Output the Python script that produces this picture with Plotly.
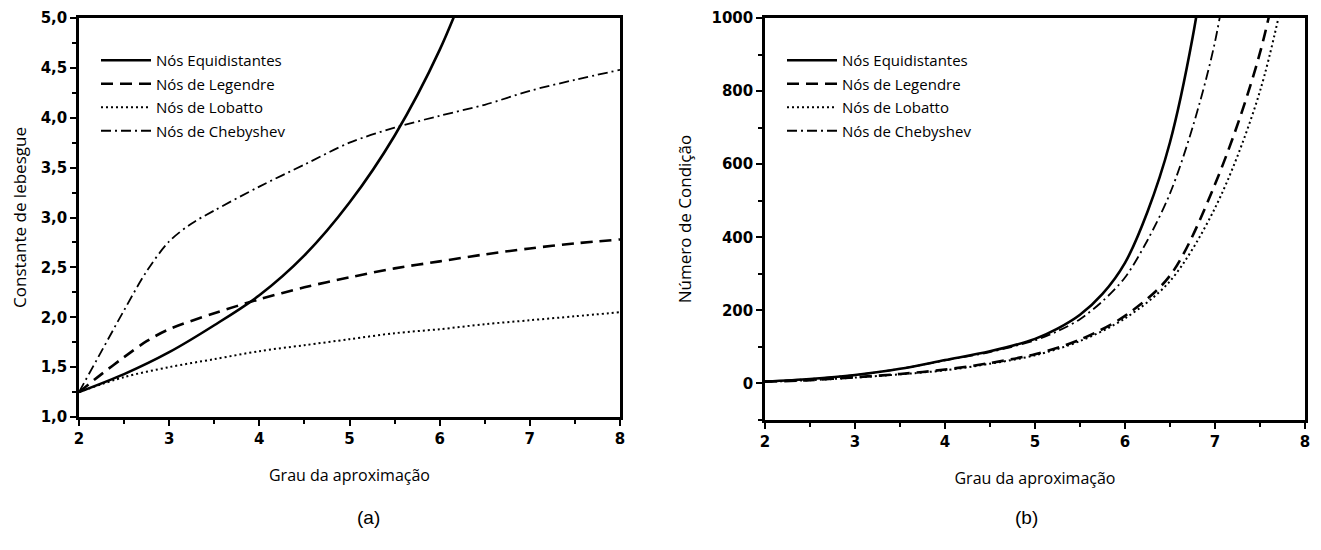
import plotly.graph_objects as go

# ---------- data: (a) Lebesgue constant ----------
xa_equi = [2, 2.5, 3, 3.5, 4, 4.5, 5, 5.5, 6, 6.5]
ya_equi = [1.25, 1.43, 1.65, 1.92, 2.22, 2.62, 3.15, 3.82, 4.68, 5.8]

xa_leg = [2, 2.25, 2.5, 2.75, 3, 3.5, 4, 4.5, 5, 5.5, 6, 6.5, 7, 7.5, 8]
ya_leg = [1.25, 1.43, 1.6, 1.76, 1.88, 2.04, 2.18, 2.3, 2.4, 2.49, 2.56, 2.63, 2.69, 2.74, 2.78]

xa_lob = [2, 2.5, 3, 3.5, 4, 4.5, 5, 5.5, 6, 6.5, 7, 7.5, 8]
ya_lob = [1.25, 1.4, 1.5, 1.58, 1.66, 1.72, 1.78, 1.84, 1.88, 1.93, 1.97, 2.01, 2.05]

xa_che = [2, 2.25, 2.5, 2.75, 3, 3.25, 3.5, 4, 4.5, 5, 5.5, 6, 6.5, 7, 7.5, 8]
ya_che = [1.25, 1.66, 2.07, 2.46, 2.76, 2.94, 3.07, 3.31, 3.53, 3.75, 3.9, 4.02, 4.13, 4.27, 4.38, 4.48]

# ---------- data: (b) condition number ----------
xb_equi = [2, 2.5, 3, 3.5, 4, 4.5, 5, 5.25, 5.5, 5.75, 6, 6.25, 6.5, 6.75, 7]
yb_equi = [5, 12, 23, 40, 64, 88, 122, 150, 188, 245, 330, 470, 660, 945, 1340]

xb_che = [2, 2.5, 3, 3.5, 4, 4.5, 5, 5.25, 5.5, 5.75, 6, 6.25, 6.5, 6.75, 7, 7.25]
yb_che = [5, 12, 23, 40, 63, 86, 118, 143, 176, 225, 290, 392, 520, 700, 935, 1300]

xb_leg = [2, 2.5, 3, 3.5, 4, 4.5, 5, 5.5, 6, 6.5, 7, 7.5, 8]
yb_leg = [5, 9, 17, 26, 38, 56, 80, 120, 185, 295, 545, 905, 1500]

xb_lob = [2, 2.5, 3, 3.5, 4, 4.5, 5, 5.5, 6, 6.5, 7, 7.5, 8]
yb_lob = [5, 9, 16, 25, 36, 54, 77, 116, 178, 280, 480, 800, 1350]

names = ["Nós Equidistantes", "Nós de Legendre", "Nós de Lobatto", "Nós de Chebyshev"]
x_ticks = [2, 3, 4, 5, 6, 7, 8]
ya_ticks = [1.0, 1.5, 2.0, 2.5, 3.0, 3.5, 4.0, 4.5, 5.0]
yb_ticks = [0, 200, 400, 600, 800, 1000]

styles = [
    dict(color="black", width=2.6, dash="solid"),
    dict(color="black", width=2.6, dash="12px,7px"),
    dict(color="black", width=2.0, dash="2px,3px"),
    dict(color="black", width=1.8, dash="10px,4px,2px,4px"),
]

fig = go.Figure()

series_a = [(xa_equi, ya_equi), (xa_leg, ya_leg), (xa_lob, ya_lob), (xa_che, ya_che)]
series_b = [(xb_equi, yb_equi), (xb_leg, yb_leg), (xb_lob, yb_lob), (xb_che, yb_che)]

for i, ((x, y), n, s) in enumerate(zip(series_a, names, styles)):
    fig.add_trace(go.Scatter(x=x, y=y, name=n, mode="lines", line=dict(shape="spline", smoothing=0.9, **s),
                             xaxis="x", yaxis="y", legend="legend", legendgroup="a%d" % i))
for i, ((x, y), n, s) in enumerate(zip(series_b, names, styles)):
    fig.add_trace(go.Scatter(x=x, y=y, name=n, mode="lines", line=dict(shape="spline", smoothing=0.9, **s),
                             xaxis="x2", yaxis="y2", legend="legend2", legendgroup="b%d" % i))

# page body has an 8px margin: size the figure so that it fills the window exactly
OFF = 8
W, H = 1321 - OFF, 550 - OFF

def px(x):
    return (x - OFF) / W

def py(y):
    return 1 - (y - OFF) / H

tickfont = dict(family="DejaVu Sans", size=15, color="black", weight="bold")
xtitlefont = dict(family="Open Sans", size=16, color="black")
ytitlefont = dict(family="Open Sans", size=17, color="black")

common_axis = dict(
    showline=True, linewidth=2.5, linecolor="black", mirror=True,
    ticks="outside", ticklen=6, tickwidth=2.2, tickcolor="black",
    showgrid=False, zeroline=False, tickfont=tickfont, automargin=False,
    ticklabeloverflow="allow",
)

def xaxis(x0, x1, anchor):
    return dict(domain=[px(x0), px(x1)], anchor=anchor, range=[2, 8], tickvals=x_ticks,
                minor=dict(dtick=0.5, ticks="outside", ticklen=4, tickwidth=2.2, tickcolor="black"),
                title=dict(text="Grau da aproximação", font=xtitlefont, standoff=24),
                **common_axis)

legend_common = dict(xanchor="left", yanchor="top", bgcolor="rgba(0,0,0,0)",
                     font=dict(family="Open Sans", size=15, color="black"), tracegroupgap=1,
                     itemwidth=50, borderwidth=0)

fig.update_layout(
    width=W, height=H,
    margin=dict(l=0, r=0, t=0, b=0),
    paper_bgcolor="white", plot_bgcolor="white",
    separators=",.",
    showlegend=True,
    xaxis=xaxis(79, 620, "y"),
    yaxis=dict(domain=[py(417), py(18)], anchor="x", range=[1, 5], tickvals=ya_ticks,
               tickformat=".1f",
               minor=dict(dtick=0.25, ticks="outside", ticklen=4, tickwidth=2.2, tickcolor="black"),
               title=dict(text="Constante de lebesgue", font=ytitlefont, standoff=13),
               **common_axis),
    xaxis2=xaxis(765, 1305, "y2"),
    yaxis2=dict(domain=[py(420), py(18)], anchor="x2", range=[-100, 1000], tickvals=yb_ticks,
                minor=dict(dtick=100, ticks="outside", ticklen=4, tickwidth=2.2, tickcolor="black"),
                title=dict(text="Número de Condição", font=ytitlefont, standoff=16),
                **common_axis),
    legend=dict(x=px(96), y=py(44), **legend_common),
    legend2=dict(x=px(782), y=py(44), **legend_common),
    annotations=[
        dict(text="(a)", x=px(355), y=py(530), xref="paper", yref="paper", showarrow=False,
             font=dict(family="Liberation Sans, Arial", size=19, color="black")),
        dict(text="(b)", x=px(1040), y=py(530), xref="paper", yref="paper", showarrow=False,
             font=dict(family="Liberation Sans, Arial", size=19, color="black")),
    ],
)

fig.write_html("out.html")
